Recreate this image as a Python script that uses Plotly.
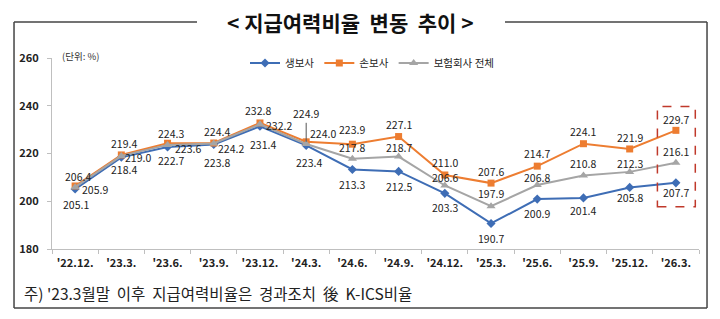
import plotly.graph_objects as go

categories = ["'22.12.", "'23.3.", "'23.6.", "'23.9.", "'23.12.", "'24.3.", "'24.6.",
              "'24.9.", "'24.12.", "'25.3.", "'25.6.", "'25.9.", "'25.12.", "'26.3."]
life = [205.1, 218.4, 222.7, 223.8, 231.4, 223.4, 213.3, 212.5, 203.3, 190.7, 200.9, 201.4, 205.8, 207.7]
nonlife = [206.4, 219.4, 224.3, 224.4, 232.8, 224.9, 223.9, 227.1, 211.0, 207.6, 214.7, 224.1, 221.9, 229.7]
total = [205.9, 219.0, 223.6, 224.2, 232.2, 224.0, 217.8, 218.7, 206.6, 197.9, 206.8, 210.8, 212.3, 216.1]
names = ["생보사", "손보사", "보험회사 전체"]
colors = ["#3E6DB5", "#ED7D31", "#A5A5A5"]
symbols = ["diamond", "square", "triangle-up"]
y_ticks = [180, 200, 220, 240, 260]

# label offsets in pixels (style only)
life_off = [(1, -15), (3, -12), (3, -13), (3, -18), (3, -18), (3, -17), (0, -15),
            (0, -15), (0, -14), (0, -15), (0, -14), (0, -13), (0, -10), (0, -10)]
nonlife_off = [(3, 9), (3, 11), (3, 10), (3, 11), (-2, 12), None, (0, 15),
               (0, 12), (0, 12), (0, 12), (0, 13), (0, 12), (0, 11), (0, 11)]
total_off = [(20, -2), (17, -2), (20, -4), (17, -5), (19, -1), (17, 10), (0, 11),
             (0, 9), (0, 8), (0, 13), (0, 8), (0, 12), (0, 8), (0, 11)]

FONT = "Noto Sans CJK KR"
LABEL_FONT = dict(family=FONT, size=10.5, color="#222222")

fig = go.Figure()
for name, vals, col, sym in zip(names, [life, nonlife, total], colors, symbols):
    fig.add_trace(go.Scatter(
        x=categories, y=vals, name=name, mode="lines+markers",
        line=dict(color=col, width=2),
        marker=dict(symbol=sym, size=8 if sym == "triangle-up" else 7, color=col),
        cliponaxis=False,
    ))

for vals, offs in [(life, life_off), (nonlife, nonlife_off), (total, total_off)]:
    for i, v in enumerate(vals):
        if offs[i] is None:
            continue
        dx, dy = offs[i]
        fig.add_annotation(x=categories[i], y=v, text=f"{v:.1f}", showarrow=False,
                           xshift=dx, yshift=dy, font=LABEL_FONT)

# leader-line label for '24.3 손보사
fig.add_annotation(x=categories[5], y=nonlife[5], text=f"{nonlife[5]:.1f}",
                   showarrow=True, arrowhead=0, arrowwidth=1, arrowcolor="#555555",
                   ax=0, ay=-19, font=LABEL_FONT, yanchor="bottom")

# dashed box around latest point
last = len(categories) - 1
fig.add_shape(type="rect", xref="x", yref="y",
              x0=last - 0.40, x1=last + 0.42,
              y0=min(life[last], nonlife[last], total[last]) - 10,
              y1=max(life[last], nonlife[last], total[last]) + 10,
              line=dict(color="#C0392B", width=1.5, dash="dash"))

# outer frame with title gap
L, R, T, B = -0.0587, 1.0124, 1.188, -0.309
gl, gr = (197 - 52) / 647, (505 - 52) / 647
frame = dict(xref="paper", yref="paper", line=dict(color="#444444", width=1.5))
fig.add_shape(type="line", x0=L, x1=gl, y0=T, y1=T, **frame)
fig.add_shape(type="line", x0=gr, x1=R, y0=T, y1=T, **frame)
fig.add_shape(type="line", x0=L, x1=L, y0=T, y1=B, **frame)
fig.add_shape(type="line", x0=R, x1=R, y0=T, y1=B, **frame)
fig.add_shape(type="line", x0=L, x1=R, y0=B, y1=B, **frame)

fig.add_annotation(xref="paper", yref="paper", x=(350 - 52) / 647, y=T,
                   text="<b>&lt; 지급여력비율&nbsp; 변동&nbsp; 추이 &gt;</b>", showarrow=False,
                   font=dict(family=FONT, size=21, color="#111111"),
                   xanchor="center", yanchor="middle")

fig.add_annotation(xref="paper", yref="paper", x=(60 - 52) / 647, y=1.01,
                   text="(단위: %)", showarrow=False,
                   font=dict(family=FONT, size=9.5, color="#333333"),
                   xanchor="left", yanchor="middle")

fig.add_annotation(xref="paper", yref="paper", x=(22 - 52) / 647, y=(249 - 293) / 191,
                   text="주) '23.3월말&nbsp; 이후&nbsp; 지급여력비율은&nbsp; 경과조치&nbsp; 後&nbsp; K-ICS비율",
                   showarrow=False,
                   font=dict(family=FONT, size=15.5, color="#222222"),
                   xanchor="left", yanchor="middle")

fig.update_layout(
    width=720, height=319,
    margin=dict(l=52, r=21, t=58, b=70),
    paper_bgcolor="white", plot_bgcolor="white",
    font=dict(family=FONT, color="#222222"),
    showlegend=True,
    legend=dict(orientation="h", x=(245 - 52) / 647, y=(249 - 63) / 191,
                xanchor="left", yanchor="middle",
                font=dict(family=FONT, size=10.5, color="#222222"),
                bgcolor="rgba(0,0,0,0)", itemwidth=30, tracegroupgap=0),
    xaxis=dict(type="category", showgrid=False, showline=True, linecolor="#BFBFBF",
               ticks="outside", tickson="boundaries", ticklen=4, tickcolor="#BFBFBF",
               tickfont=dict(family=FONT, size=11, color="#222222", weight="bold"),
               ticklabelstandoff=4,
               range=[-0.5, len(categories) - 0.5], fixedrange=True),
    yaxis=dict(range=[y_ticks[0], y_ticks[-1]], tickvals=y_ticks, showgrid=False,
               showline=True, linecolor="#BFBFBF", ticks="outside", ticklen=4,
               tickcolor="#BFBFBF", zeroline=False,
               tickfont=dict(family=FONT, size=11, color="#222222", weight="bold"),
               ticklabelstandoff=6),
)

fig.write_html("out.html")
